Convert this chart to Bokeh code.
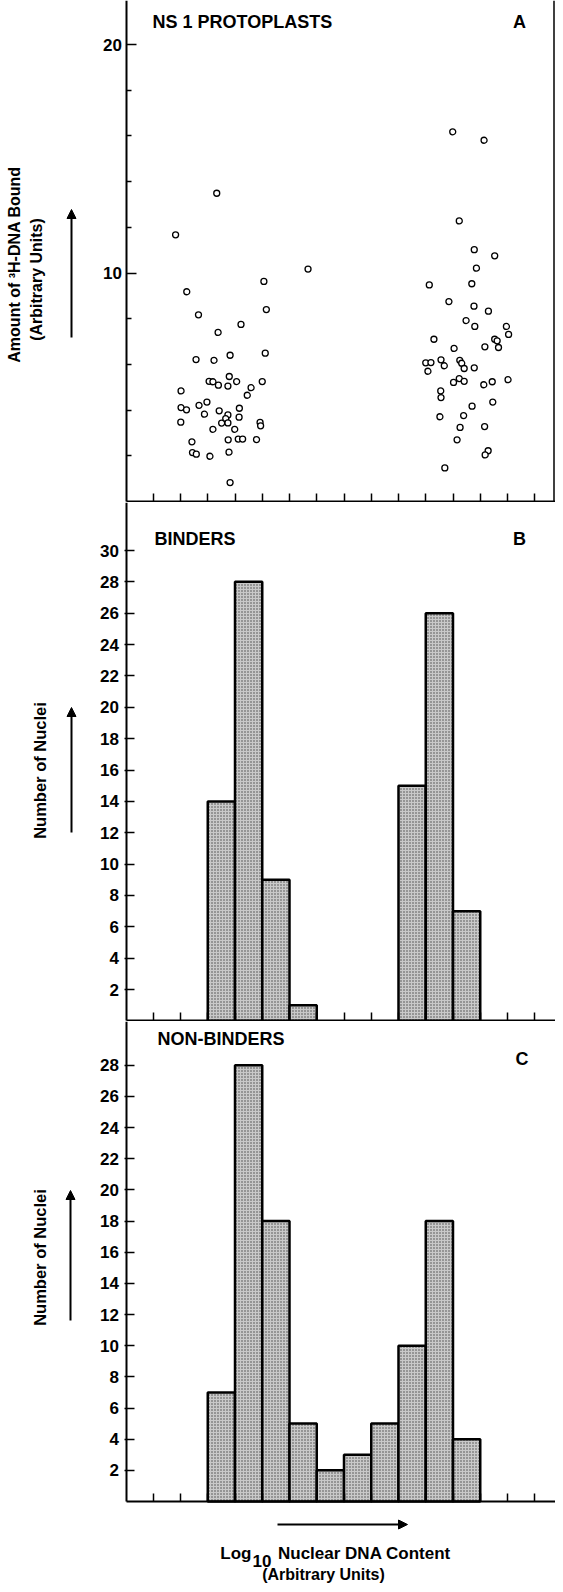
import math
import numpy as np
from bokeh.plotting import figure
from bokeh.layouts import column
from bokeh.models import Range1d, FixedTicker, Label, Arrow, NormalHead, Span
from bokeh.embed import file_html
from bokeh.resources import INLINE

# ---------------- data ----------------
# Panel A: amount of 3H-DNA bound vs log10 nuclear DNA content (one point per protoplast)
scatter_x = [3.33, 1.82, 6.68, 5.06, 2.23, 5.15, 2.66, 4.22, 3.38, 5.11, 3.82, 2.57, 3.23,
             3.79, 3.05, 3.19, 4.06, 5.00, 3.39, 3.74, 4.59, 2.02, 4.45, 2.97, 2.68, 2.02,
             2.22, 4.16, 3.42, 2.88, 3.74, 4.15, 3.66, 2.01, 3.51, 3.74, 4.92, 4.94, 3.19,
             3.99, 2.42, 3.75, 4.12, 4.28, 4.79, 2.44, 2.58, 3.08, 3.78, 3.82,
             11.99, 13.14, 12.23, 12.78, 13.53, 12.86, 11.13, 12.69, 11.85, 12.77, 13.30,
             12.48, 12.80, 13.96, 14.04, 11.30, 13.53, 13.62, 13.17, 13.67, 12.04, 11.00,
             11.19, 11.56, 12.25, 12.32, 11.68, 12.41, 12.78, 11.08, 12.23, 12.02, 12.41,
             13.13, 13.44, 14.02, 11.55, 11.56, 13.46, 12.70, 11.52, 12.39, 12.26, 13.16,
             12.15, 13.29, 13.18, 11.70]
scatter_y = [13.49, 11.67, 10.17, 9.63, 9.18, 8.40, 8.17, 7.75, 7.40, 6.49, 6.40, 6.21, 6.18,
             5.47, 5.26, 5.24, 5.25, 5.25, 5.09, 5.05, 4.98, 4.84, 4.65, 4.35, 4.21, 4.11,
             4.01, 4.08, 3.97, 3.82, 3.79, 3.69, 3.63, 3.47, 3.43, 3.44, 3.46, 3.31, 3.16,
             3.16, 2.61, 2.70, 2.73, 2.73, 2.71, 2.14, 2.07, 1.98, 2.16, 0.83,
             16.18, 15.81, 12.28, 11.02, 10.75, 10.21, 9.48, 9.53, 8.75, 8.55, 8.33,
             7.92, 7.66, 7.66, 7.31, 7.10, 7.10, 7.03, 6.77, 6.74, 6.70, 6.07,
             6.08, 6.20, 6.18, 6.05, 5.94, 5.82, 5.85, 5.70, 5.38, 5.21, 5.26,
             5.11, 5.24, 5.33, 4.84, 4.55, 4.35, 4.17, 3.71, 3.76, 3.24, 3.28,
             2.70, 2.22, 2.04, 1.47]

# Panel B: binders histogram (bin left edge, number of nuclei)
binders_bins = [3, 4, 5, 6, 10, 11, 12]
binders_counts = [14, 28, 9, 1, 15, 26, 7]

# Panel C: non-binders histogram
nonbinders_bins = [3, 4, 5, 6, 7, 8, 9, 10, 11, 12]
nonbinders_counts = [7, 28, 18, 5, 2, 3, 5, 10, 18, 4]

# tick positions
x_ticks = list(range(1, 16))
a_major_ticks = [10, 20]
a_minor_ticks = [2, 4, 6, 8, 12, 14, 16, 18]
b_ticks = list(range(2, 31, 2))
c_ticks = list(range(2, 29, 2))

# ---------------- layout helpers (page pixels -> data units) ----------------
FONT = "Liberation Sans"
W = 555
X0, XS = 133.5, 27.25
def xd(px):
    return (px - X0) / XS
XSTART, XEND = xd(8), xd(563)

def ya(py): return (509 - py) / 22.85
def yb(py): return (1028.4 - py) / 15.68
def yc(py): return (1509 - py) / 15.58

def make_fig(h, y0, y1):
    p = figure(width=W, height=h, x_range=Range1d(XSTART, XEND), y_range=Range1d(y0, y1),
               output_backend="svg", toolbar_location=None,
               min_border=0, min_border_left=0, min_border_right=0,
               min_border_top=0, min_border_bottom=0)
    p.outline_line_color = None
    p.grid.visible = False
    p.background_fill_color = "white"
    p.border_fill_color = "white"
    # x axis (bottom of panel), ticks pointing up
    xa = p.xaxis[0]
    xa.fixed_location = 0
    xa.bounds = (0, XEND)
    xa.ticker = FixedTicker(ticks=x_ticks, minor_ticks=[])
    xa.major_label_overrides = {t: "" for t in x_ticks}
    xa.major_tick_in = 8
    xa.major_tick_out = 0
    xa.minor_tick_in = 0
    xa.minor_tick_out = 0
    xa.axis_line_width = 2
    xa.major_tick_line_width = 1.5
    xa.axis_line_color = "black"
    xa.major_tick_line_color = "black"
    # y axis
    yax = p.yaxis[0]
    yax.fixed_location = 0
    yax.bounds = (0, y1)
    yax.axis_line_width = 2
    yax.axis_line_color = "black"
    yax.major_tick_line_color = "black"
    yax.minor_tick_line_color = "black"
    yax.major_tick_line_width = 1.5
    yax.minor_tick_line_width = 1.5
    yax.major_label_text_font = FONT
    yax.major_label_text_font_style = "bold"
    yax.major_label_text_font_size = "17px"
    yax.major_label_text_color = "black"
    return p

def lab(p, x, y, text, size="18px", align="left", angle=0.0, style="bold"):
    p.add_layout(Label(x=x, y=y, text=text, text_font=FONT, text_font_style=style,
                       text_font_size=size, text_align=align, text_baseline="middle",
                       text_color="black", angle=angle))

def arrow(p, x0, y0, x1, y1):
    p.add_layout(Arrow(end=NormalHead(size=9, fill_color="black", line_color="black", line_width=1),
                       x_start=x0, y_start=y0, x_end=x1, y_end=y1,
                       line_width=2, line_color="black"))

bar_style = dict(fill_color="#c9c9c9", line_color="black", line_width=2.5,
                 hatch_pattern="dot", hatch_color="#444444", hatch_scale=3, hatch_weight=1)

# ---------------- panel A ----------------
pA = make_fig(502, ya(510), ya(8))
ay = pA.yaxis[0]
ay.ticker = FixedTicker(ticks=a_major_ticks, minor_ticks=a_minor_ticks)
ay.major_tick_in = 10
ay.major_tick_out = 0
ay.minor_tick_in = 5
ay.minor_tick_out = 0
ay.major_label_standoff = 4
pA.scatter(scatter_x, scatter_y, marker="circle", size=6, fill_color="white",
           line_color="black", line_width=1.3)
pA.add_layout(Span(location=xd(561.5), dimension="height", line_color="black", line_width=1.5))
lab(pA, xd(160), ya(29), "NS 1 PROTOPLASTS")
lab(pA, xd(527), ya(29), "A", align="center")
lab(pA, xd(22), ya(272), "Amount of \u00b3H-DNA Bound", size="16px", align="center", angle=math.pi / 2)
lab(pA, xd(44), ya(287), "(Arbitrary Units)", size="16px", align="center", angle=math.pi / 2)
arrow(pA, xd(79), ya(345), xd(79), ya(217))

# ---------------- panel B ----------------
pB = make_fig(519, yb(1029), yb(510))
by = pB.yaxis[0]
by.ticker = FixedTicker(ticks=b_ticks, minor_ticks=[])
by.major_tick_in = 8
by.major_tick_out = 2
by.minor_tick_in = 0
by.minor_tick_out = 0
by.major_label_standoff = 5
bl = np.array(binders_bins, dtype=float)
pB.quad(left=bl, right=bl + 1, bottom=0, top=binders_counts, **bar_style)
lab(pB, xd(162), yb(546), "BINDERS")
lab(pB, xd(527), yb(546), "B", align="center")
lab(pB, xd(47), yb(778), "Number of Nuclei", size="16.5px", align="center", angle=math.pi / 2)
arrow(pB, xd(79), yb(840), xd(79), yb(715))

# ---------------- panel C ----------------
pC = make_fig(563, yc(1592), yc(1029))
cy = pC.yaxis[0]
cy.ticker = FixedTicker(ticks=c_ticks, minor_ticks=[])
cy.major_tick_in = 8
cy.major_tick_out = 2
cy.minor_tick_in = 0
cy.minor_tick_out = 0
cy.major_label_standoff = 5
cl = np.array(nonbinders_bins, dtype=float)
pC.quad(left=cl, right=cl + 1, bottom=0, top=nonbinders_counts, **bar_style)
lab(pC, xd(165), yc(1046.5), "NON-BINDERS")
lab(pC, xd(529.5), yc(1066), "C", align="center")
lab(pC, xd(47), yc(1265), "Number of Nuclei", size="16.5px", align="center", angle=math.pi / 2)
arrow(pC, xd(78), yc(1328), xd(78), yc(1198))
arrow(pC, xd(285), yc(1532), xd(415), yc(1532))
lab(pC, xd(259), yc(1561), "Log", size="17px", align="right")
lab(pC, xd(260), yc(1568), "10", size="17px", align="left")
lab(pC, xd(285.5), yc(1561), "Nuclear DNA Content", size="17px", align="left")
lab(pC, xd(331), yc(1582), "(Arbitrary Units)", size="16px", align="center")

layout = column(pA, pB, pC, spacing=0)
open("out.html", "w").write(file_html(layout, INLINE, title="NS 1 protoplasts"))
